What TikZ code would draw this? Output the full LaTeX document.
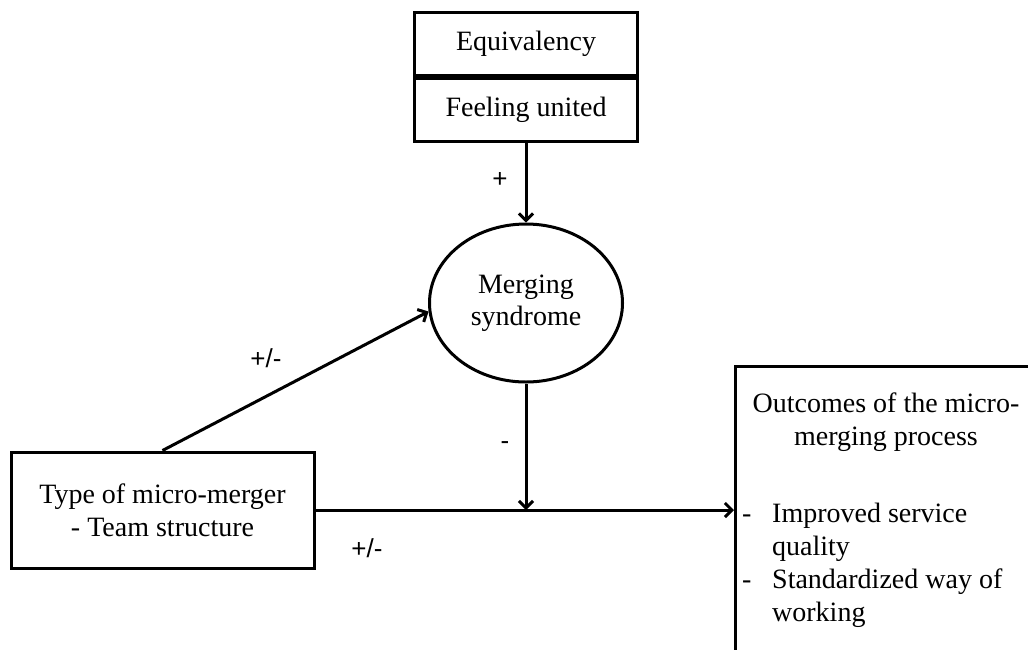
\documentclass[tikz,border=0pt]{standalone}
\usepackage{fontspec}
\setmainfont{Liberation Serif}
\newfontfamily\signfont{Liberation Sans}
\usetikzlibrary{shapes.geometric,arrows.meta}

\begin{document}
\begin{tikzpicture}[
    x=1pt,y=-1pt,
    box/.style={rectangle,draw,line width=3pt,inner sep=0pt,align=center,font=\fontsize{28}{33}\selectfont},
    merge/.style={ellipse,draw,line width=3pt,inner sep=0pt,minimum width=193pt,minimum height=158pt,align=center,font=\fontsize{28}{32}\selectfont},
    txt/.style={inner sep=0pt,font=\fontsize{28}{33}\selectfont},
    sign/.style={inner sep=0pt,font=\signfont\fontsize{26}{30}\selectfont},
    link/.style={line width=3pt,-{Straight Barb[length=7pt,width=14pt]}},
]

\useasboundingbox (0,0) rectangle (1028,649);
\clip (0,0) rectangle (1028,649);

% boxes
\node[box,minimum width=223pt,minimum height=63pt] (equiv) at (526,43.5) {Equivalency};
\node[box,minimum width=223pt,minimum height=63pt,anchor=north] (feel) at (equiv.south) {Feeling united};
\node[merge] (merge) at (526,303) {Merging\\syndrome};
\node[box,minimum width=303pt,minimum height=116pt] (type) at (162.5,510) {Type of micro-merger\\- Team structure};
\node[box,minimum width=310pt,minimum height=330pt,anchor=north west] (outcome) at (734,365) {};
\node[txt,align=center,anchor=north] (outtitle) at (886,393) {Outcomes of the micro-\\merging process};
\node[txt,anchor=north west] (outlist) at (742,499)
    {\begin{tabular}{@{}p{30pt}@{}l@{}}
     - & Improved service\\
       & quality\\
     - & Standardized way of\\
       & working
     \end{tabular}};

% connectors
\coordinate (join) at (merge.south |- type.east);
\coordinate (entry) at (type.east -| outcome.west);
\draw[link] (feel.south) -- (merge.north);
\draw[link] (type.north) -- (merge.185);
\draw[link] (merge.south) -- (join);
\draw[link] (type.east) -- (entry);

% signs
\node[sign] (plus) at (500,180) {+};
\node[sign] (minus) at (505,446) {-};
\node[sign] (pmtop) at (266,358) {+/-};
\node[sign] (pmlow) at (367,548) {+/-};

\end{tikzpicture}
\end{document}
